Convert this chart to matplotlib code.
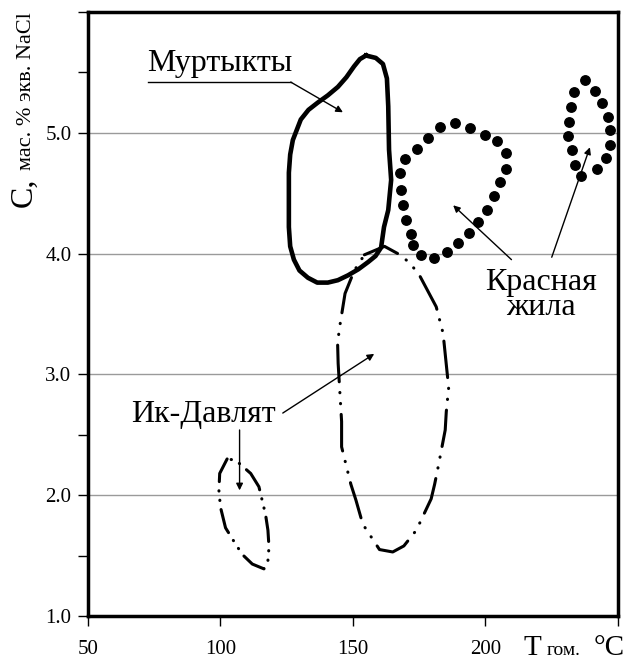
import matplotlib
matplotlib.use("Agg")
import matplotlib.pyplot as plt

plt.rcParams['font.family'] = ['Liberation Serif', 'DejaVu Serif']

# Муртыкты (solid outline)
murt_x = [154.9, 158.6, 161.3, 162.8, 163.3, 163.6, 164.4, 163.3, 161.7, 160.6, 158.5, 155.7, 152.0, 148.1,
          144.3, 140.5, 136.5, 133.0, 129.8, 127.7, 126.3, 125.8, 125.8, 126.3, 127.3, 130.3, 133.2,
          136.7, 140.5, 144.3, 147.5, 150.4, 152.6, 154.9]
murt_y = [5.64, 5.62, 5.57, 5.45, 5.22, 4.86, 4.61, 4.36, 4.22, 4.05, 3.98, 3.93, 3.87, 3.82,
          3.78, 3.76, 3.76, 3.80, 3.86, 3.95, 4.06, 4.22, 4.67, 4.82, 4.94, 5.11, 5.19,
          5.25, 5.31, 5.38, 5.46, 5.55, 5.61, 5.64]

# Красная жила, large field (dots)
kr1_x = [188.4, 194.0, 199.7, 204.5, 207.6, 207.6, 205.4, 203.3, 200.5, 197.2, 193.8, 189.7, 185.3,
         180.4, 175.5, 172.8, 172.0, 170.1, 168.8, 168.2, 167.9, 169.7, 174.1, 178.3, 182.8]
kr1_y = [5.08, 5.04, 4.98, 4.93, 4.83, 4.70, 4.59, 4.48, 4.36, 4.26, 4.17, 4.09, 4.01,
         3.96, 3.99, 4.07, 4.16, 4.28, 4.40, 4.53, 4.67, 4.78, 4.87, 4.96, 5.05]

# Красная жила, small field (dots)
kr2_x = [237.4, 241.2, 243.9, 246.1, 246.8, 246.8, 245.6, 242.0, 236.1, 233.6, 232.6, 231.3, 231.7, 232.3, 233.4]
kr2_y = [5.44, 5.35, 5.25, 5.13, 5.02, 4.90, 4.79, 4.70, 4.64, 4.73, 4.86, 4.97, 5.09, 5.21, 5.34]

# Ик-Давлят, large field (dash-dot-dot)
ik1_x = [154.3, 161.9, 166.9, 170.5, 172.6, 175.1, 181.4, 184.0, 186.1, 185.2, 184.8, 182.1, 180.8,
         179.5, 173.9, 169.2, 165.0, 160.0, 153.7, 151.1, 149.2, 145.7, 145.7, 144.4, 144.2, 144.8,
         147.0, 150.5, 154.3]
ik1_y = [3.99, 4.06, 4.00, 3.94, 3.89, 3.82, 3.56, 3.34, 2.89, 2.69, 2.54, 2.23, 2.09,
         1.97, 1.71, 1.58, 1.53, 1.55, 1.76, 1.96, 2.09, 2.40, 2.61, 3.09, 3.25, 3.37,
         3.67, 3.86, 3.99]

# Ик-Давлят, small field (dash-dot-dot)
ik2_x = [102.5, 99.7, 99.4, 100.0, 101.9, 105.0, 108.2, 112.0, 116.4, 117.9, 118.3, 117.9, 117.0,
         114.5, 111.4, 108.8, 105.7, 102.5]
ik2_y = [2.30, 2.18, 2.04, 1.90, 1.73, 1.62, 1.51, 1.43, 1.39, 1.46, 1.57, 1.71, 1.84,
         2.07, 2.18, 2.23, 2.29, 2.30]

x_ticks = [50, 100, 150, 200, 250]
x_labels = ['50', '100', '150', '200', '']
y_ticks = [1.0, 2.0, 3.0, 4.0, 5.0, 6.0]
y_labels = ['1.0', '2.0', '3.0', '4.0', '5.0', '']
y_minor = [1.5, 2.5, 5.5]
grid_y = [2.0, 3.0, 4.0, 5.0]

fig = plt.figure(figsize=(6.29, 6.64), dpi=100)
ax = fig.add_axes([0.1399, 0.0723, 0.8426, 0.9096])

for g in grid_y:
    ax.axhline(g, color='#9a9a9a', lw=1.0, zorder=0)

ax.plot(murt_x, murt_y, color='black', lw=3.3, solid_joinstyle='round', zorder=3)
ax.plot(kr1_x, kr1_y, 'o', color='black', ms=6.8, zorder=3)
ax.plot(kr2_x, kr2_y, 'o', color='black', ms=6.8, zorder=3)
ax.plot(ik1_x, ik1_y, color='black', lw=2.2, dash_capstyle='round',
        linestyle=(0, (12, 3.5, 0.1, 3.5, 0.1, 3.5)), zorder=3)
ax.plot(ik2_x, ik2_y, color='black', lw=2.2, dash_capstyle='round',
        linestyle=(0, (8, 3.0, 0.1, 3.0, 0.1, 3.0)), zorder=3)

arrow = dict(arrowstyle='-|>', color='black', lw=1.0, mutation_scale=10, shrinkA=0, shrinkB=0)

# labels and leaders
ax.text(99.6, 5.51, 'Муртыкты', fontsize=23, ha='center', va='baseline')
ax.plot([72.7, 126.5], [5.42, 5.42], color='black', lw=1.0)
ax.annotate('', xy=(146.2, 5.17), xytext=(126.5, 5.42), arrowprops=arrow)

ax.text(220.8, 3.66, 'Красная\nжила', fontsize=23, ha='center', va='center',
        multialignment='center', linespacing=0.82)
ax.annotate('', xy=(187.8, 4.40), xytext=(209.8, 3.95), arrowprops=arrow)
ax.annotate('', xy=(239.4, 4.88), xytext=(225.0, 3.97), arrowprops=arrow)

ax.text(93.4, 2.61, 'Ик-Давлят', fontsize=23, ha='center', va='baseline')
ax.annotate('', xy=(158.0, 3.17), xytext=(123.5, 2.68), arrowprops=arrow)
ax.annotate('', xy=(107.2, 2.04), xytext=(107.2, 2.54), arrowprops=arrow)

ax.set_xlim(50, 250)
ax.set_ylim(1.0, 6.0)
ax.set_xticks(x_ticks)
ax.set_xticklabels(x_labels)
ax.set_yticks(y_ticks)
ax.set_yticklabels(y_labels)
ax.set_yticks(y_minor, minor=True)
ax.tick_params(axis='both', which='major', direction='out', length=7, width=1.0,
               labelsize=15, pad=5)
ax.tick_params(axis='y', which='minor', direction='out', length=7, width=1.0)
ax.tick_params(axis='x', pad=10)
for s in ax.spines.values():
    s.set_linewidth(2.5)

# axis titles
fig.text(0.050, (664 - 207) / 664, 'С,', fontsize=23, rotation=90,
         rotation_mode='anchor', ha='left', va='baseline')
fig.text(0.050, (664 - 170) / 664, 'мас. % экв. NaCl', fontsize=16, rotation=90,
         rotation_mode='anchor', ha='left', va='baseline')

fig.text(523 / 629, 0.014, 'Т', fontsize=21, ha='left', va='baseline')
fig.text(547 / 629, 0.014, 'гом.', fontsize=14, ha='left', va='baseline')
fig.text(594 / 629, 0.014, '°С', fontsize=21, ha='left', va='baseline')

fig.savefig('out.png', dpi=100)
